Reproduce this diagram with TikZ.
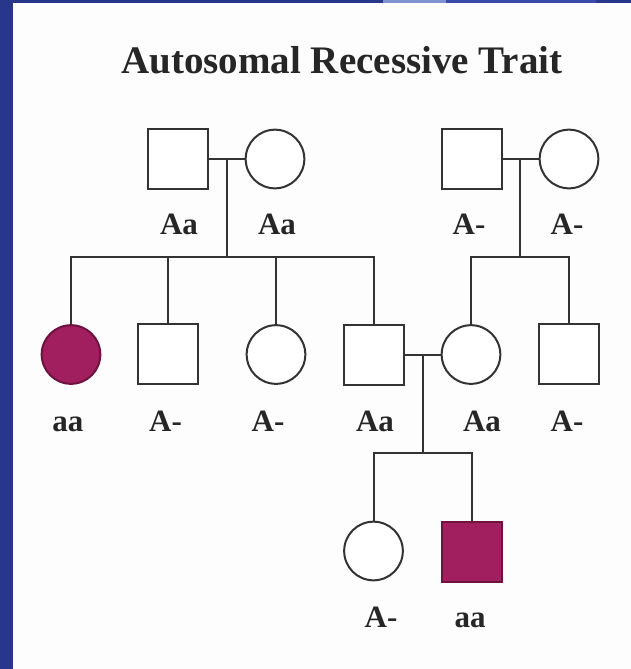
\documentclass[tikz,border=0pt]{standalone}
\usepackage{fontspec}
\setmainfont{Liberation Serif}
\definecolor{framedark}{HTML}{28378C}
\definecolor{framelight}{HTML}{8093D0}
\definecolor{framemid}{HTML}{3A4BAB}
\definecolor{linegray}{HTML}{333333}
\definecolor{traitred}{HTML}{A11F5E}
\definecolor{traitdark}{HTML}{6E1240}
\definecolor{paper}{HTML}{FDFDFD}
\begin{document}
\begin{tikzpicture}[x=0.75pt,y=-0.75pt,
  person/.style={draw=linegray,line width=1.5pt,fill=white,inner sep=0pt,minimum size=45pt},
  male/.style={person,rectangle},
  female/.style={person,circle,minimum size=44pt},
  affected/.style={fill=traitred,draw=traitdark},
  gtype/.style={font=\bfseries\fontsize{23.25}{24}\selectfont,anchor=base,inner sep=0pt,text=black!85},
  link/.style={draw=linegray,line width=1.5pt,line join=miter}]
% page and frame
\useasboundingbox (0,0) rectangle (631,669);
\fill[paper] (0,0) rectangle (631,669);
\fill[framedark] (0,0) rectangle (13,669);
\fill[framedark] (0,0) rectangle (383,3);
\fill[framelight] (383,0) rectangle (446,3);
\fill[framemid] (446,0) rectangle (596,3);
\fill[framedark] (596,0) rectangle (631,3);

% title
\node[font=\bfseries\fontsize{29.25}{32}\selectfont,anchor=base,inner sep=0pt,text=black!85]
  (title) at (342,73) {Autosomal Recessive Trait};

% generation I
\node[male]   (gf1) at (177.5,159) {};
\node[female] (gm1) at (275,159) {};
\node[male]   (gf2) at (471.5,159) {};
\node[female] (gm2) at (569,159) {};

% generation II
\node[female,affected] (c1) at (71,354.5) {};
\node[male]   (c2) at (168,354) {};
\node[female] (c3) at (276,354.5) {};
\node[male]   (c4) at (373.5,354.5) {};
\node[female] (c5) at (471,354.5) {};
\node[male]   (c6) at (569,354) {};

% generation III
\node[female] (g1) at (373.5,551) {};
\node[male,affected] (g2) at (472,551.5) {};

% junction points
\coordinate (m1) at (227,159);
\coordinate (s1) at (227,257);
\coordinate (m2) at (520,159);
\coordinate (s2) at (520,257);
\coordinate (m3) at (423,354.5);
\coordinate (s3) at (423,453);

% matings and sibships
\draw[link] (gf1.east) -- (gm1.west);
\draw[link] (m1) -- (s1);
\draw[link] (c1.north) -- (c1.north |- s1) -- (c4.north |- s1) -- (c4.north);
\draw[link] (c2.north) -- (c2.north |- s1);
\draw[link] (c3.north) -- (c3.north |- s1);

\draw[link] (gf2.east) -- (gm2.west);
\draw[link] (m2) -- (s2);
\draw[link] (c5.north) -- (c5.north |- s2) -- (c6.north |- s2) -- (c6.north);

\draw[link] (c4.east) -- (c5.west);
\draw[link] (m3) -- (s3);
\draw[link] (g1.north) -- (g1.north |- s3) -- (g2.north |- s3) -- (g2.north);

% genotypes
\node[gtype] (l1) at (179,234) {Aa};
\node[gtype] (l2) at (277,234) {Aa};
\node[gtype] (l3) at (469,234) {A-};
\node[gtype] (l4) at (567,234) {A-};

\node[gtype] (l5) at (68,431) {aa};
\node[gtype] (l6) at (165.5,431) {A-};
\node[gtype] (l7) at (268,431) {A-};
\node[gtype] (l8) at (375,431) {Aa};
\node[gtype] (l9) at (482,431) {Aa};
\node[gtype] (l10) at (567,431) {A-};

\node[gtype] (l11) at (381,627) {A-};
\node[gtype] (l12) at (470,627) {aa};
\end{tikzpicture}
\end{document}
